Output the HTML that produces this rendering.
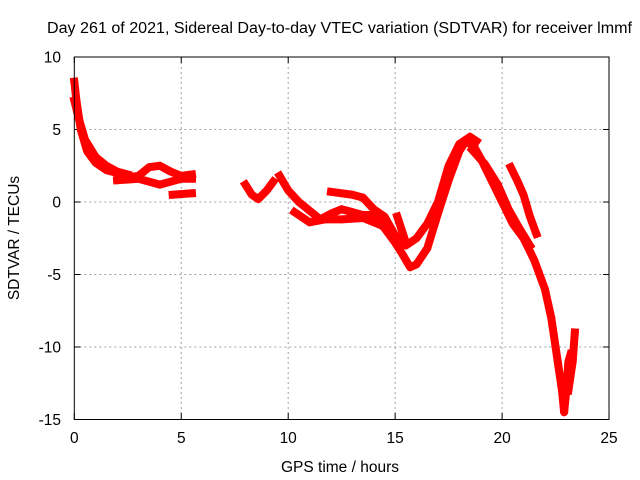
<!DOCTYPE html>
<html><head><meta charset="utf-8"><style>
body{margin:0;background:#fff}
svg{display:block;font-family:"Liberation Sans",sans-serif}
</style></head><body>
<svg id="c" width="640" height="480">
<text x="339.5" y="33" font-size="15.5" text-anchor="middle" textLength="585" lengthAdjust="spacingAndGlyphs">Day 261 of 2021, Sidereal Day-to-day VTEC variation (SDTVAR) for receiver lmmf</text>
<text x="340" y="472" font-size="15.5" text-anchor="middle">GPS time / hours</text>
<text transform="translate(19,238) rotate(-90)" font-size="15.5" text-anchor="middle">SDTVAR / TECUs</text>
<g id="grid"></g><g id="ticks"></g><g id="series"></g>
<rect x="74.3" y="57" width="534.7" height="362.5" fill="none" stroke="#000" stroke-width="1"/>
</svg>
<script>
const xTicks=[0,5,10,15,20,25];
const yTicks=[10,5,0,-5,-10,-15];
const trackA=[[0,8.3],[0.1,7],[0.3,5],[0.6,3.5],[1,2.7],[1.5,2.2],[2,2],[2.5,1.7],[3,1.8],[3.5,2.4],[4,2.5],[4.5,2.1],[5,1.8],[5.5,1.9]];
const trackK=[[0,7],[0.2,5.8],[0.5,4.3],[1,3.1],[1.5,2.5],[2,2.1],[2.5,1.9]];
const trackB=[[2,1.5],[3,1.6],[3.5,1.4],[4,1.2],[4.5,1.4],[5,1.6],[5.5,1.6]];
const trackC=[[4.6,0.5],[5.5,0.6]];
const trackD=[[8,1.2],[8.3,0.5],[8.6,0.2],[9,0.8],[9.3,1.4]];
const trackE=[[9.6,1.8],[10,0.8],[10.5,0],[11,-0.6],[11.5,-1.2],[12,-0.8],[12.5,-0.5],[13,-0.7],[13.5,-0.9],[14,-0.9],[14.5,-1.8],[15,-2.8],[15.3,-3.5],[15.7,-4.5],[16,-4.3],[16.5,-3.2],[17,-0.8],[17.5,1.5],[18,3.5],[18.3,4.2],[18.7,3.8],[19,3],[19.5,1.5],[20,0],[20.5,-1.5],[21,-2.5],[21.5,-4],[22,-6],[22.3,-8],[22.6,-11],[22.8,-13],[22.9,-14.5],[23,-13],[23.1,-11],[23.2,-10.5]];
const trackF=[[12,0.7],[13,0.5],[13.5,0.3],[14,-0.5],[14.5,-1],[15,-2.3],[15.5,-3],[16,-2.5],[16.5,-1.5],[17,0],[17.5,2.5],[18,4],[18.5,4.5],[18.8,4.2]];
const trackL=[[18.6,3.6],[19.2,2.6],[19.8,1.2],[20.3,-0.5],[20.8,-1.8],[21.3,-3]];
const trackG=[[20.4,2.4],[20.7,1.5],[21,0.5],[21.3,-1],[21.6,-2.2]];
const trackH=[[23.1,-13],[23.3,-11],[23.4,-9]];
const trackI=[[10.3,-0.7],[11,-1.4],[11.7,-1.2],[12.5,-1.2],[13.5,-1.1],[14.5,-1.7],[15,-2.5]];
const trackJ=[[15.1,-1],[15.5,-2.8]];
const tracks=[trackA,trackK,trackB,trackC,trackD,trackE,trackF,trackL,trackG,trackH,trackI,trackJ];
const NS="http://www.w3.org/2000/svg";
const X=t=>74.3+t*21.39, Y=v=>202-v*14.5;
function mk(tag,attrs,parent){const e=document.createElementNS(NS,tag);for(const k in attrs)e.setAttribute(k,attrs[k]);parent.appendChild(e);return e;}
const g=document.getElementById('grid'),tk=document.getElementById('ticks'),s=document.getElementById('series');
xTicks.forEach(t=>{
 if(t>0&&t<25){const l=mk('line',{x1:X(t),x2:X(t),y1:57,y2:419.5,stroke:'#a0a0a0','stroke-dasharray':'2,3'},g);
 
 }
 mk('line',{x1:X(t),x2:X(t),y1:419.5,y2:413,stroke:'#000'},tk);
 mk('line',{x1:X(t),x2:X(t),y1:57,y2:63,stroke:'#000'},tk);
 const tx=mk('text',{x:X(t),y:443,'font-size':15.5,'text-anchor':'middle'},tk);tx.textContent=t;
 
 
});
yTicks.forEach(v=>{
 if(v<10&&v>-15){const l=mk('line',{x1:74.3,x2:609,y1:Y(v),y2:Y(v),stroke:'#a0a0a0','stroke-dasharray':'2,3'},g);
 
 }
 mk('line',{x1:74.3,x2:80.5,y1:Y(v),y2:Y(v),stroke:'#000'},tk);
 mk('line',{x1:609,x2:603,y1:Y(v),y2:Y(v),stroke:'#000'},tk);
 const tx=mk('text',{x:61,y:Y(v)+5.5,'font-size':15.5,'text-anchor':'end'},tk);tx.textContent=v;
 
 
});
tracks.forEach((tr,i)=>{
 const p=mk('polyline',{points:tr.map(d=>X(d[0])+','+Y(d[1])).join(' '),fill:'none',stroke:'#f00','stroke-width':8,'stroke-linejoin':'round','stroke-linecap':'square'},s);
 
 
 tr.forEach(d=>{
  const m=mk('path',{d:`M${X(d[0])-4},${Y(d[1])}h8M${X(d[0])},${Y(d[1])-4}v8`,stroke:'#f00','stroke-width':1.5},s);
  
  
 });
});
</script>
</body></html>
